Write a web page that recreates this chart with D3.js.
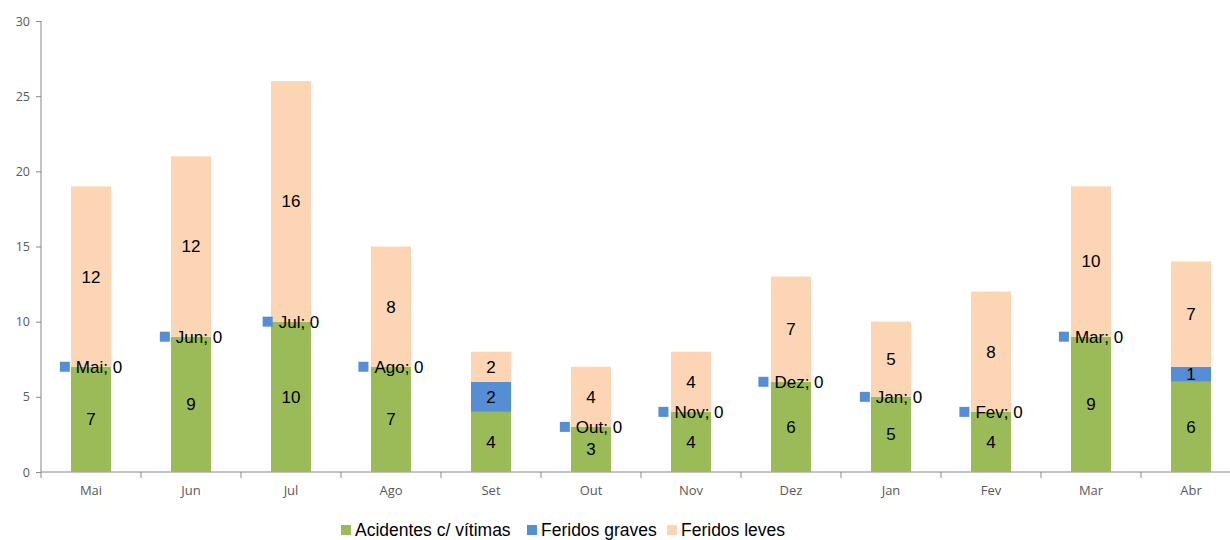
<!DOCTYPE html>
<html><head><meta charset="utf-8">
<script src="https://cdn.jsdelivr.net/npm/d3@7"></script>
<style>body{margin:0;background:#fff}svg{display:block}</style>
</head><body>
<svg id="c" width="1230" height="540"></svg>
<script>
const months = ["Mai","Jun","Jul","Ago","Set","Out","Nov","Dez","Jan","Fev","Mar","Abr"];
const acidentes = [7,9,10,7,4,3,4,6,5,4,9,6];
const graves = [0,0,0,0,2,0,0,0,0,0,0,1];
const leves = [12,12,16,8,2,4,4,7,5,8,10,7];
const seriesNames = ["Acidentes c/ vítimas","Feridos graves","Feridos leves"];
const colors = ["#9BBB59","#558ED5","#FCD5B5"];
const yTicks = [0,5,10,15,20,25,30];

const svg = d3.select("#c");
const x = d3.scaleBand().domain(months).range([41,1241]).paddingInner(0).paddingOuter(0);
const y = d3.scaleLinear().domain([0,30]).range([472,21]);
const barW = 40;

const rows = months.map((m,i)=>({m, a:acidentes[i], g:graves[i], l:leves[i]}));
const stack = d3.stack().keys(["a","g","l"])(rows);

// axes
const yAx = svg.append("g").attr("transform","translate(41,0)")
  .call(d3.axisLeft(y).tickValues(yTicks).tickSize(5).tickPadding(6));
yAx.select(".domain").attr("stroke","#888").attr("d","M0,21V472");
yAx.selectAll(".tick line").attr("stroke","#888");
yAx.selectAll(".tick text").attr("fill","#595959").style("font-family","'Open Sans',sans-serif").style("font-size","12.5px");

const xAx = svg.append("g").attr("transform","translate(0,472)")
  .call(d3.axisBottom(x).tickSize(0).tickPadding(14));
xAx.select(".domain").attr("stroke","#888").attr("d","M41,0H1241");
xAx.selectAll(".tick text").attr("fill","#595959").style("font-family","'Open Sans',sans-serif").style("font-size","13px");
// between-category tick marks
svg.append("g").selectAll("line").data(months).join("line")
  .attr("x1",d=>x(d)).attr("x2",d=>x(d)).attr("y1",472).attr("y2",478).attr("stroke","#888");

// bars
const cx = m => x(m)+x.bandwidth()/2;
stack.forEach((s,si)=>{
  svg.append("g").selectAll("rect").data(s).join("rect")
    .attr("x",d=>cx(d.data.m)-barW/2).attr("width",barW)
    .attr("y",d=>y(d[1])).attr("height",d=>y(d[0])-y(d[1]))
    .attr("fill",colors[si]);
});

// labels
const lab = svg.append("g").style("font-family","'Liberation Sans',Arial,sans-serif").style("font-size","17px").attr("fill","#000");
stack.forEach((s,si)=>{
  s.forEach(d=>{
    const v = d[1]-d[0];
    if (v>0){
      lab.append("text").attr("x",cx(d.data.m)).attr("y",y((d[0]+d[1])/2)).attr("dy","0.35em")
        .attr("text-anchor","middle").text(v);
    } else {
      const g = lab.append("g");
      const t = g.append("text").attr("y",y(d[1])).attr("dy","0.35em").text(d.data.m+"; "+v);
      const tw = t.node().getComputedTextLength();
      const total = 10+6+tw;
      const x0 = cx(d.data.m)-total/2;
      g.append("rect").attr("x",x0).attr("y",y(d[1])-5).attr("width",10).attr("height",10).attr("fill",colors[si]);
      t.attr("x",x0+16);
    }
  });
});

// legend
const leg = svg.append("g").style("font-family","'Liberation Sans',Arial,sans-serif").style("font-size","17.5px");
const legX = [341,527,667];
seriesNames.forEach((n,i)=>{
  leg.append("rect").attr("x",legX[i]).attr("y",525).attr("width",10).attr("height",10).attr("fill",colors[i]);
  leg.append("text").attr("x",legX[i]+14).attr("y",530).attr("dy","0.35em").attr("fill","#000").text(n);
});
</script>
</body></html>
